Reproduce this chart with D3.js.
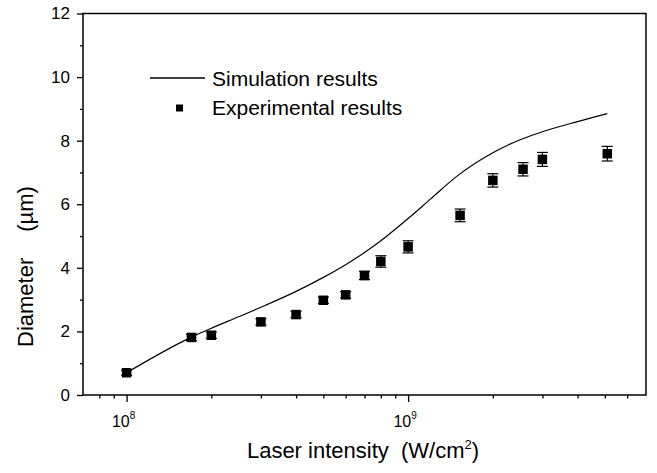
<!DOCTYPE html>
<html>
<head>
<meta charset="utf-8">
<script src="https://cdn.jsdelivr.net/npm/d3@7"></script>
<style>
  html, body { margin: 0; padding: 0; background: #fff; }
  svg { display: block; }
  text { font-family: "Liberation Sans", Arial, Helvetica, sans-serif; fill: #000; }
</style>
</head>
<body>
<svg id="chart" width="657" height="473"></svg>
<script>
// ---- data ----
const expIntensity = [1e8, 1.7e8, 2e8, 3e8, 4e8, 5e8, 6e8, 7e8, 8e8, 1e9, 1.53e9, 2e9, 2.56e9, 3e9, 5.1e9];
const expDiameter  = [0.70, 1.81, 1.88, 2.30, 2.53, 2.98, 3.15, 3.76, 4.20, 4.66, 5.65, 6.75, 7.10, 7.41, 7.59];
const expError     = [0.08, 0.10, 0.10, 0.10, 0.10, 0.10, 0.10, 0.13, 0.18, 0.19, 0.20, 0.21, 0.21, 0.22, 0.23];

const simIntensity = [1e8, 1.7e8, 2e8, 2.5e8, 3e8, 4e8, 5e8, 6e8, 7e8, 8e8, 1e9, 1.2e9, 1.5e9, 2e9, 2.5e9, 3e9, 4e9, 5.1e9];
const simDiameter  = [0.70, 1.82, 2.10, 2.46, 2.76, 3.26, 3.70, 4.10, 4.48, 4.85, 5.55, 6.16, 6.90, 7.62, 8.03, 8.28, 8.60, 8.85];

const xMajorTicks = [1e8, 1e9];
const xMajorExponents = ["8", "9"];
const xMinorTicks = [8e7, 9e7, 2e8, 3e8, 4e8, 5e8, 6e8, 7e8, 8e8, 9e8, 2e9, 3e9, 4e9, 5e9, 6e9];
const yMajorTicks = [0, 2, 4, 6, 8, 10, 12];
const yMinorTicks = [1, 3, 5, 7, 9, 11];
const legendLabels = ["Simulation results", "Experimental results"];

// ---- layout ----
const svg = d3.select("#chart");
const mLeft = 83, mRight = 646, mTop = 13.5, mBottom = 395;

const x = d3.scaleLog().domain([7e7, 7e9]).range([mLeft, mRight]);
const y = d3.scaleLinear().domain([0, 12]).range([mBottom, mTop]);

// frame
svg.append("rect")
  .attr("x", mLeft).attr("y", mTop)
  .attr("width", mRight - mLeft).attr("height", mBottom - mTop)
  .attr("fill", "none").attr("stroke", "#000").attr("stroke-width", 1.5);

// x axis
const gx = svg.append("g").attr("transform", `translate(0,${mBottom})`);
gx.call(d3.axisBottom(x).tickValues(xMajorTicks).tickSize(7).tickFormat(""));
const gxm = svg.append("g").attr("transform", `translate(0,${mBottom})`);
gxm.call(d3.axisBottom(x).tickValues(xMinorTicks).tickSize(3.5).tickFormat(""));
[gx, gxm].forEach(g => {
  g.select(".domain").remove();
  g.selectAll(".tick line").attr("stroke", "#000").attr("stroke-width", 1.3);
});
xMajorTicks.forEach((v, i) => {
  const t = svg.append("text")
    .attr("x", x(v) - 3).attr("y", 427)
    .attr("text-anchor", "middle")
    .attr("font-size", 16);
  t.append("tspan").text("10");
  t.append("tspan").attr("font-size", 10).attr("dy", -8).text(xMajorExponents[i]);
});

// y axis
const gy = svg.append("g").attr("transform", `translate(${mLeft},0)`);
gy.call(d3.axisLeft(y).tickValues(yMajorTicks).tickSize(6).tickPadding(7).tickFormat(d3.format("d")));
const gym = svg.append("g").attr("transform", `translate(${mLeft},0)`);
gym.call(d3.axisLeft(y).tickValues(yMinorTicks).tickSize(3).tickFormat(""));
[gy, gym].forEach(g => {
  g.select(".domain").remove();
  g.selectAll(".tick line").attr("stroke", "#000").attr("stroke-width", 1.3);
});
gy.selectAll(".tick text")
  .attr("font-size", 17)
  .attr("font-family", '"Liberation Sans", Arial, sans-serif')
  .attr("fill", "#000");

// axis titles
const xt = svg.append("text")
  .attr("x", 363).attr("y", 458)
  .attr("text-anchor", "middle")
  .attr("font-size", 22);
xt.append("tspan").text("Laser intensity\u00a0\u00a0(W/cm");
xt.append("tspan").attr("font-size", 13).attr("dy", -9).text("2");
xt.append("tspan").attr("dy", 9).text(")");

const yt = svg.append("text")
  .attr("transform", `translate(33,347) rotate(-90)`)
  .attr("text-anchor", "start")
  .attr("font-size", 22);
yt.append("tspan").text("Diameter");
yt.append("tspan").attr("dx", 26).text("(\u00b5m)");

// simulation line
const line = d3.line()
  .x((d, i) => x(simIntensity[i]))
  .y((d, i) => y(simDiameter[i]))
  .curve(d3.curveMonotoneX);
svg.append("path")
  .datum(simDiameter)
  .attr("d", line)
  .attr("fill", "none")
  .attr("stroke", "#000")
  .attr("stroke-width", 1.2);

// experimental points with error bars
const pts = expDiameter.map((d, i) => ({ x: expIntensity[i], y: d, e: expError[i] }));
const eb = svg.append("g").attr("stroke", "#000").attr("stroke-width", 1.2);
pts.forEach(p => {
  const cx = x(p.x);
  eb.append("line").attr("x1", cx).attr("x2", cx).attr("y1", y(p.y - p.e)).attr("y2", y(p.y + p.e));
  eb.append("line").attr("x1", cx - 5.5).attr("x2", cx + 5.5).attr("y1", y(p.y - p.e)).attr("y2", y(p.y - p.e));
  eb.append("line").attr("x1", cx - 5.5).attr("x2", cx + 5.5).attr("y1", y(p.y + p.e)).attr("y2", y(p.y + p.e));
});
const sq = 9.5;
svg.append("g").selectAll("rect").data(pts).join("rect")
  .attr("x", d => x(d.x) - sq / 2)
  .attr("y", d => y(d.y) - sq / 2)
  .attr("width", sq).attr("height", sq)
  .attr("fill", "#000");

// legend
svg.append("line")
  .attr("x1", 150).attr("x2", 205).attr("y1", 78).attr("y2", 78)
  .attr("stroke", "#000").attr("stroke-width", 1.3);
svg.append("text").attr("x", 212).attr("y", 86).attr("font-size", 21).text(legendLabels[0]);
svg.append("rect").attr("x", 176).attr("y", 104.5).attr("width", 7).attr("height", 7).attr("fill", "#000");
svg.append("text").attr("x", 212).attr("y", 115).attr("font-size", 21).text(legendLabels[1]);
</script>
</body>
</html>
